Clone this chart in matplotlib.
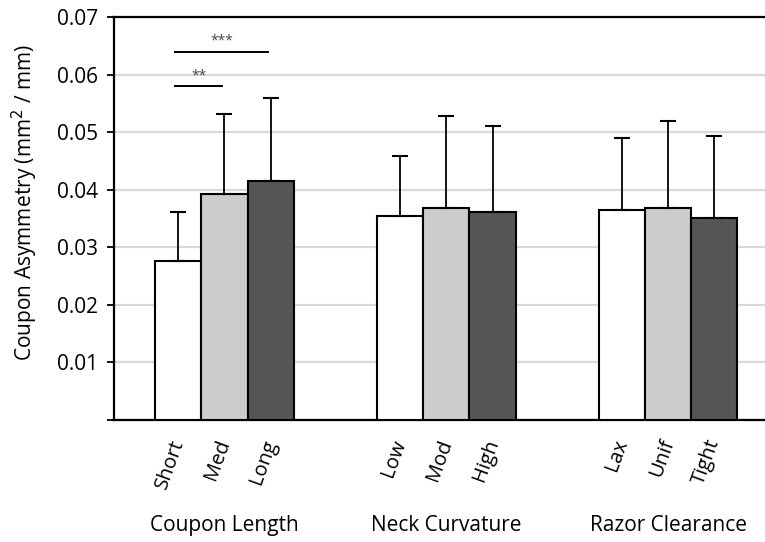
import matplotlib.pyplot as plt
import matplotlib.transforms as mtransforms
import numpy as np

plt.rcParams['font.family'] = ['Open Sans', 'DejaVu Sans']

groups = ['Coupon Length', 'Neck Curvature', 'Razor Clearance']
levels = [['Short', 'Med', 'Long'], ['Low', 'Mod', 'High'], ['Lax', 'Unif', 'Tight']]
means = [[0.0276, 0.0392, 0.0416], [0.0354, 0.0369, 0.0362], [0.0365, 0.0369, 0.0351]]
errors = [[0.0085, 0.0139, 0.0144], [0.0104, 0.0159, 0.0148], [0.0125, 0.0150, 0.0143]]
colors = ['white', '#cccccc', '#555555']
# significance brackets: (group, bar a, bar b, height, label)
sig = [(0, 0, 1, 0.058, '**'), (0, 0, 2, 0.064, '***')]

fig = plt.figure(figsize=(7.65, 5.42), dpi=100)
ax = fig.add_axes([113.5 / 765, 1 - 420 / 542, (765 - 113.5) / 765, (420 - 17) / 542])

width = 0.2086
offsets = np.array([-1, 0, 1]) * width
xpos = []
for g in range(len(groups)):
    for k in range(3):
        x = g + offsets[k]
        xpos.append(x)
        ax.bar(x, means[g][k], width, color=colors[k], edgecolor='black',
               linewidth=1.5, zorder=3)
        ax.errorbar(x, means[g][k], yerr=[[0], [errors[g][k]]], fmt='none',
                    ecolor='black', elinewidth=1.3, capsize=5.5, capthick=1.5, zorder=4)

for g, a, b, h, label in sig:
    ax.plot([g + offsets[a] - 0.015, g + offsets[b] - 0.01], [h, h], color='black', lw=1.4)
    ax.text((g + offsets[a] + g + offsets[b]) / 2 - 0.01, h + 0.0005, label,
            ha='center', va='bottom', fontsize=10, color='#444444')

ax.set_xlim(-0.5, 2.437)
ax.set_ylim(0, 0.07)
ax.set_yticks(np.arange(0, 0.071, 0.01))
ax.set_yticklabels([''] + ['%.2f' % v for v in np.arange(0.01, 0.071, 0.01)], fontsize=15)
ax.yaxis.grid(True, color='#d9d9d9', lw=1.6, zorder=0)
ax.set_axisbelow(True)
ax.tick_params(axis='y', length=5, width=1.3, direction='out', pad=6)

ax.set_xticks(xpos)
ax.set_xticklabels([l for lv in levels for l in lv], rotation=70, ha='right',
                   fontsize=14.5)
ax.tick_params(axis='x', length=0, pad=12)
shift = mtransforms.ScaledTranslation(0.10, 0, fig.dpi_scale_trans)
for lab in ax.get_xticklabels():
    lab.set_transform(lab.get_transform() + shift)

for g, name in enumerate(groups):
    ax.text(g, -0.0183, name, ha='center', va='center', fontsize=15,
            clip_on=False)

ax.set_ylabel('Coupon Asymmetry (mm$^2$ / mm)', fontsize=15)
ax.yaxis.set_label_coords(-0.113, 0.54)

ax.spines['right'].set_visible(False)
for s in ['left', 'top', 'bottom']:
    ax.spines[s].set_linewidth(1.6)

fig.savefig('out.png', dpi=100)
plt.close('all')
